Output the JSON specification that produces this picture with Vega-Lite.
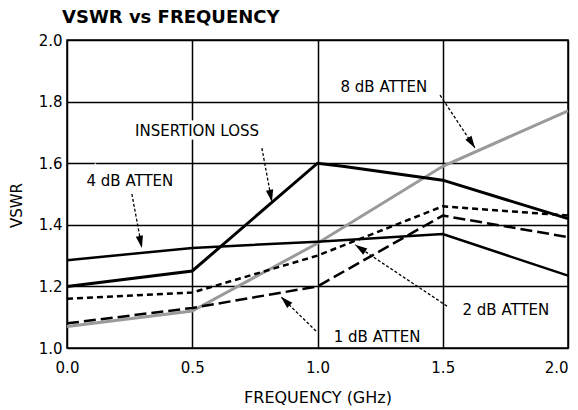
{
  "$schema": "https://vega.github.io/schema/vega-lite/v6.json",
  "width": 501,
  "height": 308,
  "autosize": {"type": "none"},
  "padding": {"left": 67, "top": 40, "right": 10, "bottom": 62},
  "background": "white",
  "config": {
    "view": {"stroke": "black", "strokeWidth": 1.5},
    "font": "DejaVu Sans"
  },
  "title": {
    "text": "VSWR vs FREQUENCY",
    "anchor": "start",
    "frame": "group",
    "dx": -5,
    "offset": 6,
    "fontSize": 18,
    "fontWeight": "bold",
    "font": "DejaVu Sans",
    "color": "black"
  },
  "datasets": {
    "curves": [
      {"series": "Insertion Loss", "freq": 0.0, "vswr": 1.20},
      {"series": "Insertion Loss", "freq": 0.5, "vswr": 1.25},
      {"series": "Insertion Loss", "freq": 1.0, "vswr": 1.60},
      {"series": "Insertion Loss", "freq": 1.1, "vswr": 1.59},
      {"series": "Insertion Loss", "freq": 1.5, "vswr": 1.545},
      {"series": "Insertion Loss", "freq": 2.0, "vswr": 1.42},
      {"series": "4 dB", "freq": 0.0, "vswr": 1.285},
      {"series": "4 dB", "freq": 0.5, "vswr": 1.325},
      {"series": "4 dB", "freq": 1.0, "vswr": 1.345},
      {"series": "4 dB", "freq": 1.5, "vswr": 1.37},
      {"series": "4 dB", "freq": 2.0, "vswr": 1.235},
      {"series": "8 dB", "freq": 0.0, "vswr": 1.07},
      {"series": "8 dB", "freq": 0.5, "vswr": 1.12},
      {"series": "8 dB", "freq": 1.0, "vswr": 1.34},
      {"series": "8 dB", "freq": 1.5, "vswr": 1.59},
      {"series": "8 dB", "freq": 2.0, "vswr": 1.77},
      {"series": "2 dB", "freq": 0.0, "vswr": 1.16},
      {"series": "2 dB", "freq": 0.5, "vswr": 1.18},
      {"series": "2 dB", "freq": 1.0, "vswr": 1.30},
      {"series": "2 dB", "freq": 1.5, "vswr": 1.46},
      {"series": "2 dB", "freq": 2.0, "vswr": 1.43},
      {"series": "1 dB", "freq": 0.0, "vswr": 1.08},
      {"series": "1 dB", "freq": 0.5, "vswr": 1.13},
      {"series": "1 dB", "freq": 1.0, "vswr": 1.20},
      {"series": "1 dB", "freq": 1.5, "vswr": 1.43},
      {"series": "1 dB", "freq": 2.0, "vswr": 1.36}
    ],
    "labels": [
      {"text": "INSERTION LOSS", "x": 0.519, "y": 1.705},
      {"text": "4 dB ATTEN", "x": 0.251, "y": 1.542},
      {"text": "8 dB ATTEN", "x": 1.265, "y": 1.847},
      {"text": "2 dB ATTEN", "x": 1.752, "y": 1.123},
      {"text": "1 dB ATTEN", "x": 1.238, "y": 1.036}
    ],
    "arrows": [
      {"label": "Insertion Loss", "x": 0.778, "y": 1.649, "x2": 0.818, "y2": 1.474},
      {"label": "4 dB", "x": 0.259, "y": 1.50, "x2": 0.299, "y2": 1.325},
      {"label": "8 dB", "x": 1.489, "y": 1.821, "x2": 1.629, "y2": 1.649},
      {"label": "2 dB", "x": 1.517, "y": 1.136, "x2": 1.15, "y2": 1.335},
      {"label": "1 dB", "x": 0.994, "y": 1.055, "x2": 0.854, "y2": 1.166}
    ]
  },
  "layer": [
    {
      "data": {"name": "labels"},
      "mark": {"type": "text", "fontSize": 15, "stroke": "white", "strokeWidth": 7, "fill": "white", "align": "center", "baseline": "middle"},
      "encoding": {
        "x": {"field": "x", "type": "quantitative", "scale": {"domain": [0, 2], "nice": false, "zero": false},
          "axis": {"values": [0, 0.5, 1, 1.5, 2], "format": ".1f", "title": "FREQUENCY (GHz)", "grid": true, "gridColor": "black", "gridOpacity": 1, "gridWidth": 1.5, "ticks": false, "domain": false, "labelPadding": 12, "labelFontSize": 15, "labelColor": "black", "labelFlush": false, "labelAlign": {"expr": "datum.value == 2 ? 'right' : 'center'"}, "titleFontSize": 16, "titleFontWeight": "normal", "titleColor": "black", "titlePadding": 14}},
        "y": {"field": "y", "type": "quantitative", "scale": {"domain": [1, 2], "nice": false, "zero": false},
          "axis": {"values": [1, 1.2, 1.4, 1.6, 1.8, 2], "format": ".1f", "title": "VSWR", "grid": true, "gridColor": "black", "gridOpacity": 1, "gridWidth": 1.5, "ticks": false, "domain": false, "labelPadding": 5, "labelFontSize": 15, "labelColor": "black", "titleFontSize": 15, "titleFontWeight": "normal", "titleColor": "black", "titleX": -43, "titleY": 165}},
        "text": {"field": "text"}
      }
    },
    {
      "data": {"name": "curves"},
      "transform": [{"filter": "datum.series === '8 dB'"}],
      "mark": {"type": "line", "color": "#9a9a9a", "strokeWidth": 3},
      "encoding": {
        "x": {"field": "freq", "type": "quantitative"},
        "y": {"field": "vswr", "type": "quantitative"}
      }
    },
    {
      "data": {"name": "curves"},
      "transform": [{"filter": "datum.series === 'Insertion Loss'"}],
      "mark": {"type": "line", "color": "black", "strokeWidth": 3},
      "encoding": {
        "x": {"field": "freq", "type": "quantitative"},
        "y": {"field": "vswr", "type": "quantitative"}
      }
    },
    {
      "data": {"name": "curves"},
      "transform": [{"filter": "datum.series === '4 dB'"}],
      "mark": {"type": "line", "color": "black", "strokeWidth": 2.5},
      "encoding": {
        "x": {"field": "freq", "type": "quantitative"},
        "y": {"field": "vswr", "type": "quantitative"}
      }
    },
    {
      "data": {"name": "curves"},
      "transform": [{"filter": "datum.series === '2 dB'"}],
      "mark": {"type": "line", "color": "black", "strokeWidth": 2.5, "strokeDash": [6, 4]},
      "encoding": {
        "x": {"field": "freq", "type": "quantitative"},
        "y": {"field": "vswr", "type": "quantitative"}
      }
    },
    {
      "data": {"name": "curves"},
      "transform": [{"filter": "datum.series === '1 dB'"}],
      "mark": {"type": "line", "color": "black", "strokeWidth": 2.5, "strokeDash": [12, 5]},
      "encoding": {
        "x": {"field": "freq", "type": "quantitative"},
        "y": {"field": "vswr", "type": "quantitative"}
      }
    },
    {
      "data": {"name": "arrows"},
      "mark": {"type": "rule", "color": "black", "strokeWidth": 1.3, "strokeDash": [3, 2]},
      "encoding": {
        "x": {"field": "x", "type": "quantitative"},
        "y": {"field": "y", "type": "quantitative"},
        "x2": {"field": "x2"},
        "y2": {"field": "y2"}
      }
    },
    {
      "data": {"name": "arrows"},
      "transform": [{"filter": "datum.label === 'Insertion Loss'"}],
      "mark": {"type": "point", "shape": "M0,0L0.6,2L-0.6,2Z", "filled": true, "color": "black", "opacity": 1, "size": 150, "angle": 169},
      "encoding": {"x": {"field": "x2", "type": "quantitative"}, "y": {"field": "y2", "type": "quantitative"}}
    },
    {
      "data": {"name": "arrows"},
      "transform": [{"filter": "datum.label === '4 dB'"}],
      "mark": {"type": "point", "shape": "M0,0L0.6,2L-0.6,2Z", "filled": true, "color": "black", "opacity": 1, "size": 150, "angle": 168},
      "encoding": {"x": {"field": "x2", "type": "quantitative"}, "y": {"field": "y2", "type": "quantitative"}}
    },
    {
      "data": {"name": "arrows"},
      "transform": [{"filter": "datum.label === '8 dB'"}],
      "mark": {"type": "point", "shape": "M0,0L0.6,2L-0.6,2Z", "filled": true, "color": "black", "opacity": 1, "size": 150, "angle": 147},
      "encoding": {"x": {"field": "x2", "type": "quantitative"}, "y": {"field": "y2", "type": "quantitative"}}
    },
    {
      "data": {"name": "arrows"},
      "transform": [{"filter": "datum.label === '2 dB'"}],
      "mark": {"type": "point", "shape": "M0,0L0.6,2L-0.6,2Z", "filled": true, "color": "black", "opacity": 1, "size": 150, "angle": 304},
      "encoding": {"x": {"field": "x2", "type": "quantitative"}, "y": {"field": "y2", "type": "quantitative"}}
    },
    {
      "data": {"name": "arrows"},
      "transform": [{"filter": "datum.label === '1 dB'"}],
      "mark": {"type": "point", "shape": "M0,0L0.6,2L-0.6,2Z", "filled": true, "color": "black", "opacity": 1, "size": 150, "angle": 314},
      "encoding": {"x": {"field": "x2", "type": "quantitative"}, "y": {"field": "y2", "type": "quantitative"}}
    },
    {
      "data": {"name": "labels"},
      "mark": {"type": "text", "fontSize": 15, "color": "black", "align": "center", "baseline": "middle"},
      "encoding": {
        "x": {"field": "x", "type": "quantitative"},
        "y": {"field": "y", "type": "quantitative"},
        "text": {"field": "text"}
      }
    }
  ]
}
